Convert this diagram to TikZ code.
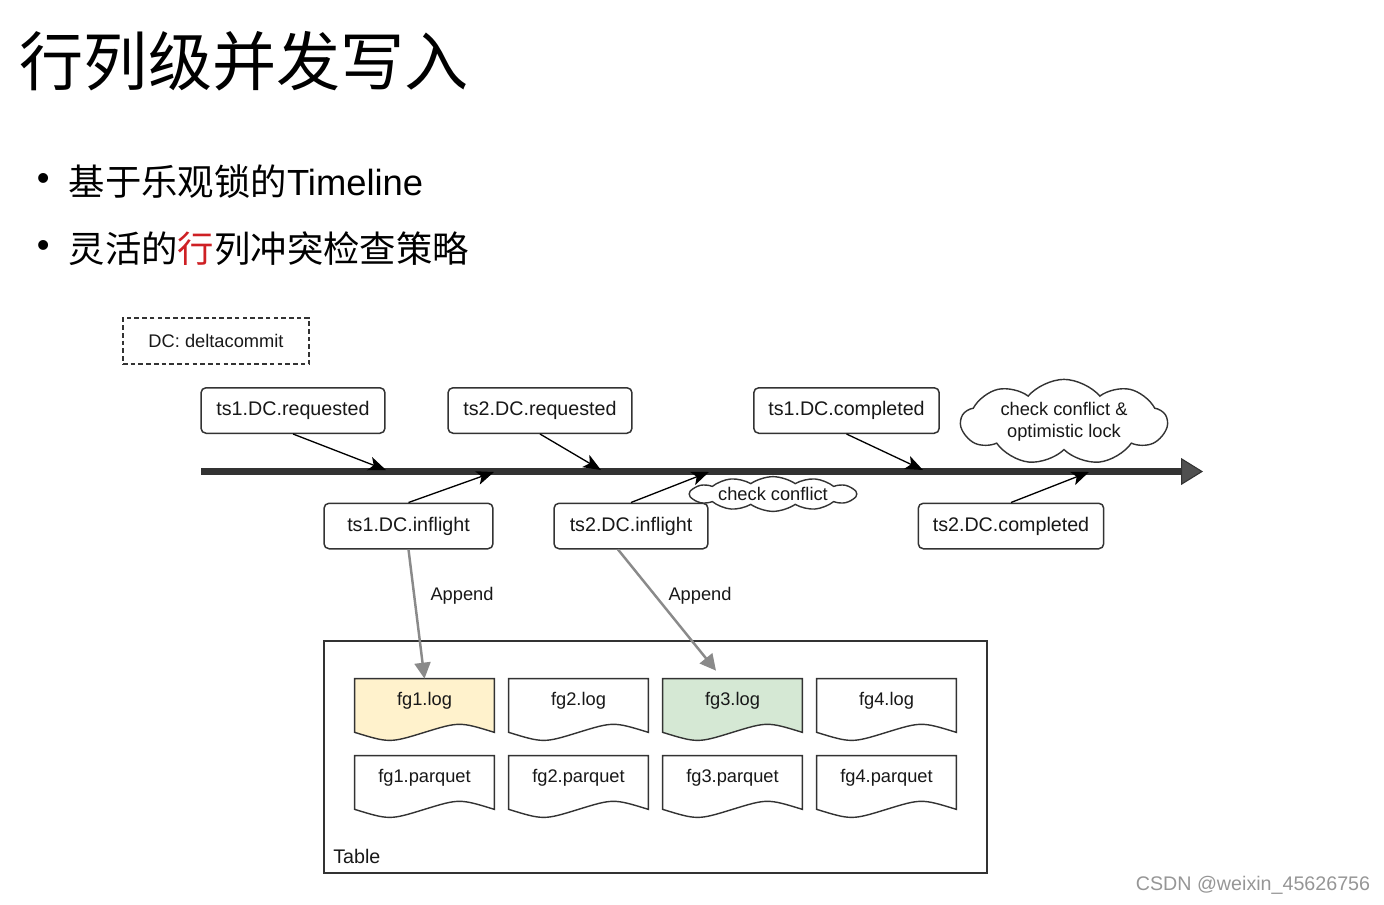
\documentclass[tikz,border=0pt]{standalone}
\usepackage{fontspec}
\setmainfont{Liberation Sans}
\newfontfamily\cjk{Noto Sans CJK SC}
\usetikzlibrary{arrows.meta,shapes.symbols,backgrounds}
\definecolor{cEdge}{RGB}{51,51,51}
\definecolor{cText}{RGB}{24,24,24}
\definecolor{cAxis}{RGB}{50,50,50}
\definecolor{cAxisFill}{RGB}{80,80,80}
\definecolor{cApp}{RGB}{138,138,138}
\definecolor{cLogA}{RGB}{255,242,204}
\definecolor{cLogC}{RGB}{213,232,212}
\definecolor{cMark}{RGB}{206,32,36}
\definecolor{cNote}{RGB}{150,150,150}

\begin{document}
\begin{tikzpicture}[
  x=0.02cm, y=-0.02cm, color=cEdge, text=cText,
  font=\fontsize{11.2}{13}\selectfont,
  evt/.style ={rounded corners=0.1cm, draw, line width=0.85pt,
               minimum height=0.91cm, inner sep=0pt},
  wR/.style  ={minimum width=3.68cm},
  wI/.style  ={minimum width=3.38cm},
  wJ/.style  ={minimum width=3.08cm},
  wC/.style  ={minimum width=3.71cm},
  small/.style={font=\fontsize{10.4}{12.5}\selectfont},
  puff/.style={cloud, draw, fill=white, line width=0.8pt, align=center, small},
  doc/.style ={minimum width=2.78cm, minimum height=1.06cm, inner sep=0pt,
               text height=0.27cm, text depth=0.26cm, small},
  aev/.style ={-{Stealth[length=10pt,width=8pt,inset=2.5pt]}, line width=0.75pt, draw=black},
  aapp/.style={-{Triangle[length=0.32cm,width=0.32cm]}, line width=1.4pt, draw=cApp},
  axis/.style={-{Triangle[length=0.44cm,width=0.54cm,line width=0.6pt,fill=cAxisFill]},
               line width=0.13cm, draw=cAxis},
]
\useasboundingbox (0,0) rectangle (1384,904);

% ----- heading and bullets ----------------------------------------------
\node[anchor=west, inner sep=0pt, font=\cjk\fontsize{36.5}{40}\selectfont, text=black]
  (title) at (19.5,61) {行列级并发写入};
\node[anchor=west, inner sep=0pt, font=\fontsize{20.7}{24}\selectfont, text=black]
  (dot1) at (36.5,182) {•};
\node[anchor=west, inner sep=0pt, font=\cjk\fontsize{20.7}{24}\selectfont, text=black]
  (bul1) at (68.5,182) {基于乐观锁的{\rmfamily Timeline}};
\node[anchor=west, inner sep=0pt, font=\fontsize{20.7}{24}\selectfont, text=black]
  (dot2) at (36.5,249) {•};
\node[anchor=west, inner sep=0pt, font=\cjk\fontsize{20.7}{24}\selectfont, text=black]
  (bul2) at (68.5,249) {灵活的\textcolor{cMark}{行}列冲突检查策略};

% columns: 293 / 408.5 / 540 / 631 / 846.5 / 1011
% rows:    341 / 410.5 / 471.5 (timeline) / 526
\node[draw, dash pattern=on 2.6pt off 1.8pt, line width=0.8pt, small,
      minimum width=3.72cm, minimum height=0.92cm] (key) at (216,341) {DC: deltacommit};

\node[evt,wR] (req1) at (293,410.5)   {ts1.DC.requested};
\node[evt,wR] (req2) at (540,410.5)   {ts2.DC.requested};
\node[evt,wC] (cmp1) at (846.5,410.5) {ts1.DC.completed};
\node[evt,wI] (inf1) at (408.5,526)   {ts1.DC.inflight};
\node[evt,wJ] (inf2) at (631,526)     {ts2.DC.inflight};
\node[evt,wC] (cmp2) at (1011,526)    {ts2.DC.completed};

% ----- the timeline and where each event lands on it --------------------
\coordinate (tl0) at (201,471.5);
\coordinate (tl1) at (1203,471.5);
\draw[axis] (tl0) -- (tl1);

\coordinate (hit1) at (386,470);
\coordinate (hit2) at (494,472);
\coordinate (hit3) at (601,470);
\coordinate (hit4) at (709,472);
\coordinate (hit5) at (923,470);
\coordinate (hit6) at (1089,472);

\draw[aev] (req1.south) -- (hit1);
\draw[aev] (inf1.north) -- (hit2);
\draw[aev] (req2.south) -- (hit3);
\draw[aev] (inf2.north) -- (hit4);
\draw[aev] (cmp1.south) -- (hit5);
\draw[aev] (cmp2.north) -- (hit6);

\node[puff, cloud puffs=12, cloud puff arc=70, aspect=8, inner sep=0.5pt]
  (chk) at (773,494) {check conflict};
\node[puff, cloud puffs=9, cloud puff arc=100, aspect=3.8, inner xsep=6pt, inner ysep=0pt]
  (chkall) at (1064,422) {check conflict \&\\optimistic lock};

% ----- table with its file groups ---------------------------------------
\node[draw, line width=0.9pt, minimum width=13.26cm, minimum height=4.64cm]
  (tbl) at (655.5,757) {};
\node[anchor=west, inner sep=0pt] (tblname) at (333,856) {Table};

\node[doc] (log1) at (424.5,705.5) {fg1.log};
\node[doc] (log2) at (578.5,705.5) {fg2.log};
\node[doc] (log3) at (732.5,705.5) {fg3.log};
\node[doc] (log4) at (886.5,705.5) {fg4.log};
\node[doc] (pq1)  at (424.5,782.5) {fg1.parquet};
\node[doc] (pq2)  at (578.5,782.5) {fg2.parquet};
\node[doc] (pq3)  at (732.5,782.5) {fg3.parquet};
\node[doc] (pq4)  at (886.5,782.5) {fg4.parquet};

% wavy-bottom outlines sit behind the file names
\begin{scope}[on background layer]
\foreach \n/\c in {log1/cLogA, log2/white, log3/cLogC, log4/white,
                   pq1/white, pq2/white, pq3/white, pq4/white}
  \filldraw[line width=0.8pt, draw=cEdge, fill=\c]
    (\n.north west) -- (\n.north east) -- (\n.south east)
    .. controls +(-34.75,-10.7) and +(34.75,-10.7) .. (\n.south)
    .. controls +(-34.75,10.7) and +(34.75,10.7) .. (\n.south west) -- cycle;
\end{scope}

% ----- inflight commits append to their log files -----------------------
\draw[aapp] (inf1.south) -- (log1.north);
\draw[aapp] ([xshift=-0.26cm]inf2.south) -- ([shift={(-16.5,-8)}]log3.north);
\node[small] (app1) at (462,596) {Append};
\node[small] (app2) at (700,596) {Append};

\node[text=cNote, font=\fontsize{11.2}{13}\selectfont] (csdn) at (1253,885) {CSDN @weixin\_45626756};

\end{tikzpicture}
\end{document}
